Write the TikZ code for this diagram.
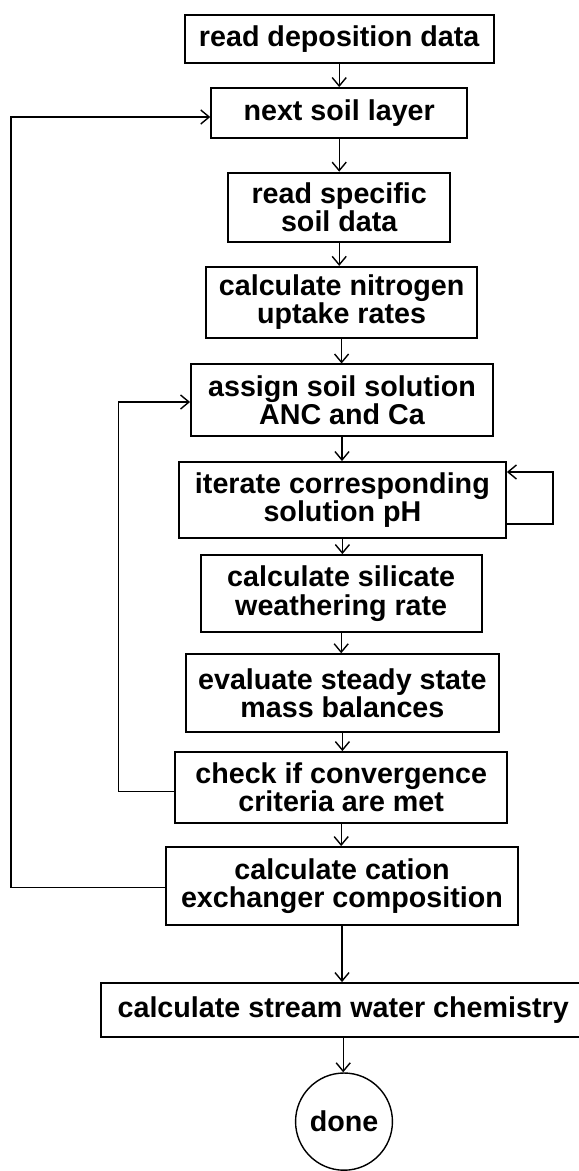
\documentclass[tikz,border=0pt]{standalone}
\usepackage{fontspec}
\setmainfont{Liberation Sans}
\usetikzlibrary{arrows.meta, shapes.geometric}

\tikzset{
  task/.style={draw, line width=1.3pt, align=center, inner sep=0pt,
    font=\bfseries\fontsize{20.4}{20}\selectfont},
  flow/.style={line width=1pt, -{Straight Barb[length=6pt,width=10pt]}}
}

\begin{document}
\begin{tikzpicture}
\useasboundingbox (0,0) rectangle (14.45,-29.275);
% main column
\node[task, minimum width=7.73cm, minimum height=1.2cm] (deposit) at (8.48,-0.975) {read deposition data};
\node[task, minimum width=6.4cm, minimum height=1.25cm] (layer) at (8.48,-2.825) {next soil layer};
\node[task, minimum width=5.55cm, minimum height=1.73cm] (specific) at (8.48,-5.18) {read specific\\ soil data};
\node[task, minimum width=6.78cm, minimum height=1.78cm] (uptake) at (8.54,-7.56) {calculate nitrogen\\uptake rates};
\node[task, minimum width=7.55cm, minimum height=1.78cm] (assign) at (8.55,-10.0) {assign soil solution\\ANC and Ca};
\node[task, minimum width=8.18cm, minimum height=1.9cm] (iterate) at (8.56,-12.5) {iterate corresponding\\solution pH};
\node[task, minimum width=7.03cm, minimum height=1.93cm] (silicate) at (8.53,-14.84) {calculate silicate\\weathering rate};
\node[task, minimum width=7.83cm, minimum height=1.95cm] (balance) at (8.56,-17.33) {evaluate steady state\\mass balances};
\node[task, minimum width=8.3cm, minimum height=1.78cm] (check) at (8.53,-19.69) {check if convergence\\criteria are met};
\node[task, minimum width=8.8cm, minimum height=1.95cm] (exchanger) at (8.55,-22.15) {calculate cation\\exchanger composition};
\node[task, minimum width=12.1cm, minimum height=1.35cm] (stream) at (8.58,-25.25) {calculate stream water chemistry};
\node[task, ellipse, line width=1pt, minimum width=2.2cm, minimum height=2.43cm] (done) at (8.6,-28.04) {done};

% downward steps
\foreach \a/\b in {deposit/layer, layer/specific, specific/uptake, uptake/assign,
    assign/iterate, iterate/silicate, silicate/balance, balance/check,
    check/exchanger, exchanger/stream, stream/done}
  \draw[flow] (\a) -- (\a |- \b.north);

% pH iteration
\draw[flow] ([yshift=-0.6cm]iterate.east) -- ++(1.15,0) |- ([yshift=0.7cm]iterate.east);
% convergence loop
\draw[flow] ([yshift=-0.1cm]check.west) -- ++(-1.4,0) |- ([yshift=-0.05cm]assign.west);
% next layer loop
\draw[flow] ([yshift=-0.03cm]exchanger.west) -- ++(-3.85,0) |- ([yshift=-0.1cm]layer.west);
\end{tikzpicture}
\end{document}
